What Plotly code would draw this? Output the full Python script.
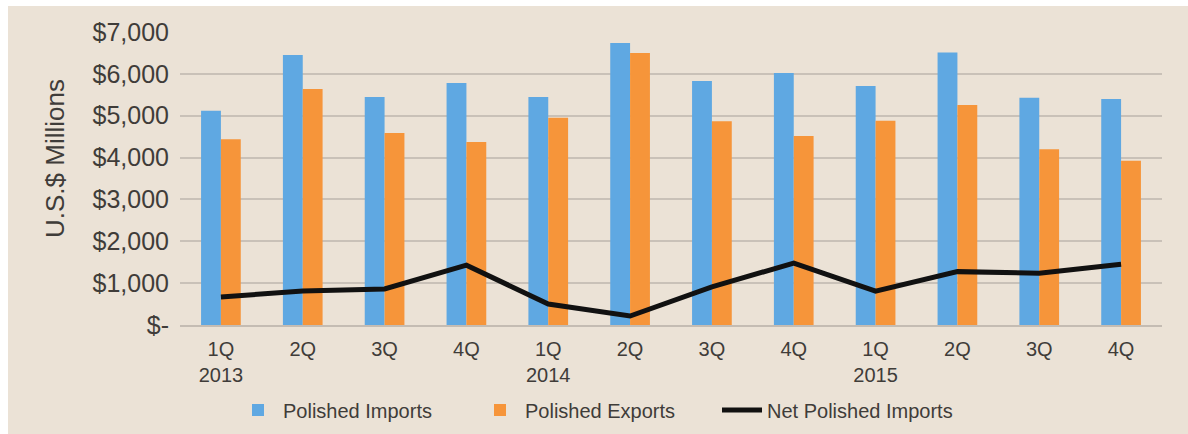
import plotly.graph_objects as go

quarters = ["1Q<br>2013", "2Q", "3Q", "4Q", "1Q<br>2014", "2Q", "3Q", "4Q", "1Q<br>2015", "2Q", "3Q", "4Q"]
imports = [5120, 6450, 5450, 5780, 5450, 6740, 5830, 6020, 5710, 6510, 5430, 5400]
exports = [4440, 5640, 4590, 4370, 4950, 6500, 4870, 4515, 4880, 5255, 4200, 3925]
net = [670, 810, 860, 1430, 500, 215, 910, 1480, 810, 1275, 1235, 1450]
ytick_vals = [0, 1000, 2000, 3000, 4000, 5000, 6000, 7000]
ytick_text = ["$-", "$1,000", "$2,000", "$3,000", "$4,000", "$5,000", "$6,000", "$7,000"]

xs = list(range(len(quarters)))
FONT = "Liberation Sans, Arial, sans-serif"
TXT = "#3f3c39"

fig = go.Figure()
fig.add_trace(go.Bar(x=xs, y=imports, name="Polished Imports", marker_color="#5fa8e2", marker_line_width=0))
fig.add_trace(go.Bar(x=xs, y=exports, name="Polished Exports", marker_color="#f6953a", marker_line_width=0))
fig.add_trace(go.Scatter(x=xs, y=net, name="Net Polished Imports", mode="lines",
                         line=dict(color="#111111", width=5)))

L, R, T, B = 180, 1188 - 1162, 32, 434 - 325
pw, ph = 1188 - L - R, 434 - T - B

fig.add_shape(type="rect", xref="paper", yref="paper", layer="below",
              x0=(8 - L) / pw, x1=(1188 - L) / pw,
              y0=(T + ph - 434) / ph, y1=(T + ph - 6) / ph,
              fillcolor="#ebe2d6", line_width=0)

fig.add_annotation(text="U.S.$ Millions", textangle=-90, showarrow=False,
                   xref="paper", yref="paper", x=(55 - L) / pw, y=(T + ph - 159) / ph,
                   xanchor="center", yanchor="middle",
                   font=dict(size=26, color=TXT, family=FONT))

fig.update_layout(
    width=1188, height=434,
    margin=dict(l=L, r=R, t=T, b=B, autoexpand=False),
    paper_bgcolor="white", plot_bgcolor="rgba(0,0,0,0)",
    barmode="group", bargap=0.515, bargroupgap=0,
    font=dict(family=FONT, color=TXT),
    showlegend=True,
    legend=dict(orientation="h", x=(596 - L) / pw, xanchor="center",
                y=-(410 - T - ph) / ph, yanchor="middle",
                font=dict(size=20, color=TXT), bgcolor="rgba(0,0,0,0)",
                itemwidth=40, entrywidth=187, entrywidthmode="pixels"),
    xaxis=dict(tickvals=xs, ticktext=quarters, range=[-0.5, 11.5],
               tickfont=dict(size=20, color=TXT), showgrid=False,
               showline=True, linecolor="#c4bcb3", linewidth=2, ticks="",
               ticklabelstandoff=5, automargin=False),
    yaxis=dict(range=[0, 7000], tickvals=ytick_vals, ticktext=ytick_text,
               tickfont=dict(size=25, color=TXT), gridcolor="#c9c1b8", gridwidth=2,
               zeroline=False, showline=False, ticks="", ticklabelstandoff=10,
               automargin=False),
)

fig.write_html("out.html", post_script="document.body.style.margin='0';",
               config={"displayModeBar": False})
